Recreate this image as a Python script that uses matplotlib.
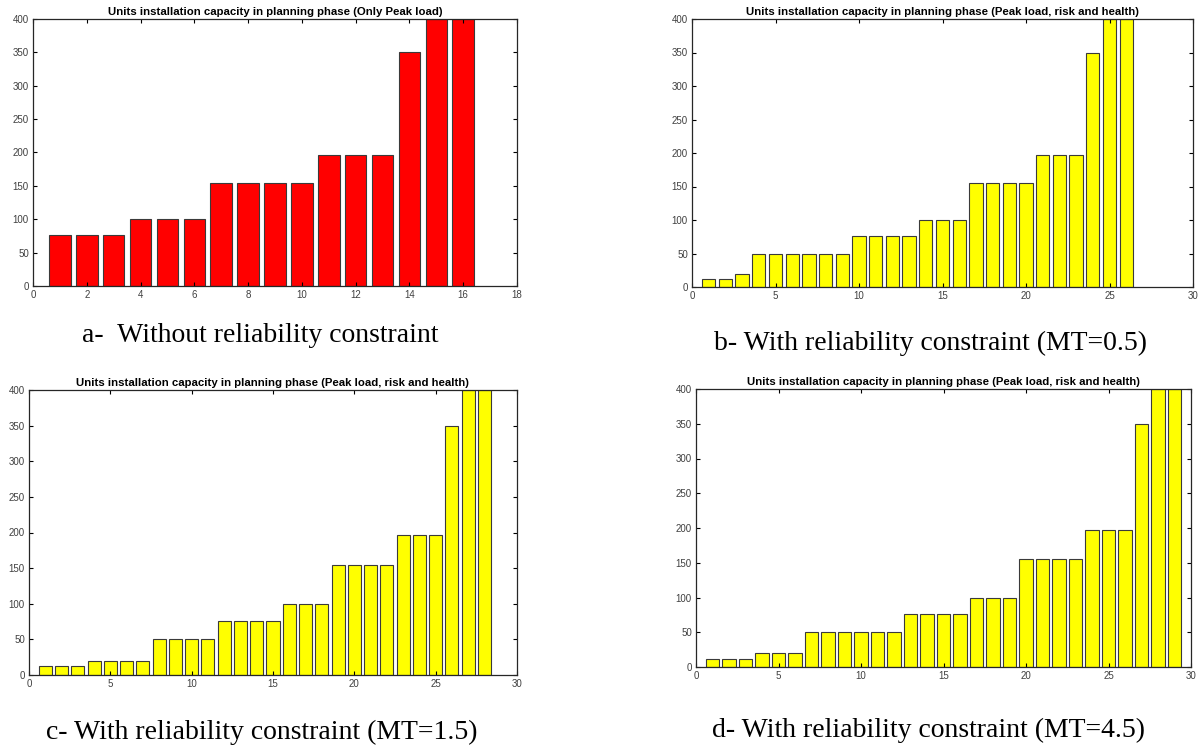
import matplotlib
matplotlib.use("Agg")
import matplotlib.pyplot as plt

# values (bars clipped at 400 drawn as 400)
cap_a = [76, 76, 76, 100, 100, 100, 155, 155, 155, 155, 197, 197, 197, 350, 400, 400]
cap_b = [12, 12, 20, 50, 50, 50, 50, 50, 50, 76, 76, 76, 76, 100, 100, 100,
         155, 155, 155, 155, 197, 197, 197, 350, 400, 400]
cap_c = [12, 12, 12, 20, 20, 20, 20, 50, 50, 50, 50, 76, 76, 76, 76, 100, 100, 100,
         155, 155, 155, 155, 197, 197, 197, 350, 400, 400]
cap_d = [12, 12, 12, 20, 20, 20, 50, 50, 50, 50, 50, 50, 76, 76, 76, 76, 100, 100, 100,
         155, 155, 155, 155, 197, 197, 197, 350, 400, 400]

title_a = "Units installation capacity in planning phase (Only Peak load)"
title_rest = "Units installation capacity in planning phase (Peak load, risk and health)"
captions = ["a-  Without reliability constraint",
            "b- With reliability constraint (MT=0.5)",
            "c- With reliability constraint (MT=1.5)",
            "d- With reliability constraint (MT=4.5)"]

W, H = 1201, 751
fig = plt.figure(figsize=(W / 100, H / 100), dpi=100)

def px_axes(l, r, t, b):
    return fig.add_axes([l / W, 1 - b / H, (r - l) / W, (b - t) / H])

def draw(ax, vals, color, title, xmax, xstep):
    xs = list(range(1, len(vals) + 1))
    ax.bar(xs, vals, width=0.8, color=color, edgecolor="#3a3a3a", linewidth=0.8)
    ax.set_xlim(0, xmax)
    ax.set_ylim(0, 400)
    ax.set_xticks(range(0, xmax + 1, xstep))
    ax.set_yticks(range(0, 401, 50))
    ax.tick_params(direction="in", top=True, right=True, length=3, width=0.8,
                   labelsize=7, labelcolor="#404040", pad=3)
    for s in ax.spines.values():
        s.set_linewidth(0.9)
        s.set_color("#262626")
    for lab in ax.get_xticklabels() + ax.get_yticklabels():
        lab.set_family("Liberation Sans")
    ax.set_title(title, fontsize=8.2, fontweight="bold", family="Liberation Sans", pad=3)

ax_a = px_axes(33, 517, 19, 286)
draw(ax_a, cap_a, "#ff0000", title_a, 18, 2)
ax_b = px_axes(692, 1193, 19, 287)
draw(ax_b, cap_b, "#ffff00", title_rest, 30, 5)
ax_c = px_axes(29, 517, 390, 675)
draw(ax_c, cap_c, "#ffff00", title_rest, 30, 5)
ax_d = px_axes(696, 1191, 389, 667)
draw(ax_d, cap_d, "#ffff00", title_rest, 30, 5)

# captions under each panel
cap_pos = [(260, 336), (930, 343), (262, 732), (928, 730)]
for (x, y), txt in zip(cap_pos, captions):
    fig.text(x / W, 1 - y / H, txt, ha="center", va="center",
             fontsize=20, family="Liberation Serif")

fig.savefig("out.png", dpi=100)
